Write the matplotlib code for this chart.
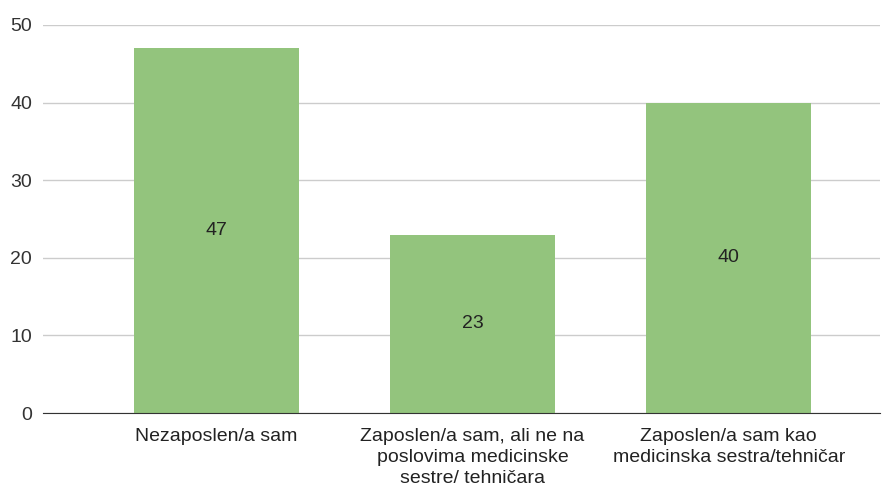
import matplotlib.pyplot as plt

# Podaci
kategorije = ['Nezaposlen/a sam',
              'Zaposlen/a sam, ali ne na\nposlovima medicinske\nsestre/ tehničara',
              'Zaposlen/a sam kao\nmedicinska sestra/tehničar']
vrijednosti = [47, 23, 40]
y_ticks = [0, 10, 20, 30, 40, 50]

plt.rcParams['font.family'] = ['Liberation Sans', 'DejaVu Sans']

fig = plt.figure(figsize=(8.88, 4.86), dpi=100)
ax = fig.add_axes([43 / 888, 1 - 413 / 486, (880 - 43) / 888, (413 - 25) / 486])

x = list(range(len(kategorije)))
bars = ax.bar(x, vrijednosti, width=0.645, color='#93c47d', zorder=2)

for b, v in zip(bars, vrijednosti):
    ax.text(b.get_x() + b.get_width() / 2, v / 2, str(v),
            ha='center', va='center', fontsize=14, color='#222222', zorder=3)

ax.set_xlim(-0.676, 2.59)
ax.set_ylim(0, 50)
ax.set_yticks(y_ticks)
ax.set_xticks(x)
ax.set_xticklabels(kategorije, fontsize=14, color='#222222', linespacing=1.3)
ax.tick_params(axis='y', labelsize=14, labelcolor='#333333', length=0, pad=8)
ax.tick_params(axis='x', length=0, pad=11)

ax.grid(axis='y', color='#cccccc', linewidth=1, zorder=0)
for s in ['top', 'right', 'left']:
    ax.spines[s].set_visible(False)
ax.spines['bottom'].set_color('#333333')
ax.spines['bottom'].set_zorder(4)

fig.savefig('out.png', dpi=100)
